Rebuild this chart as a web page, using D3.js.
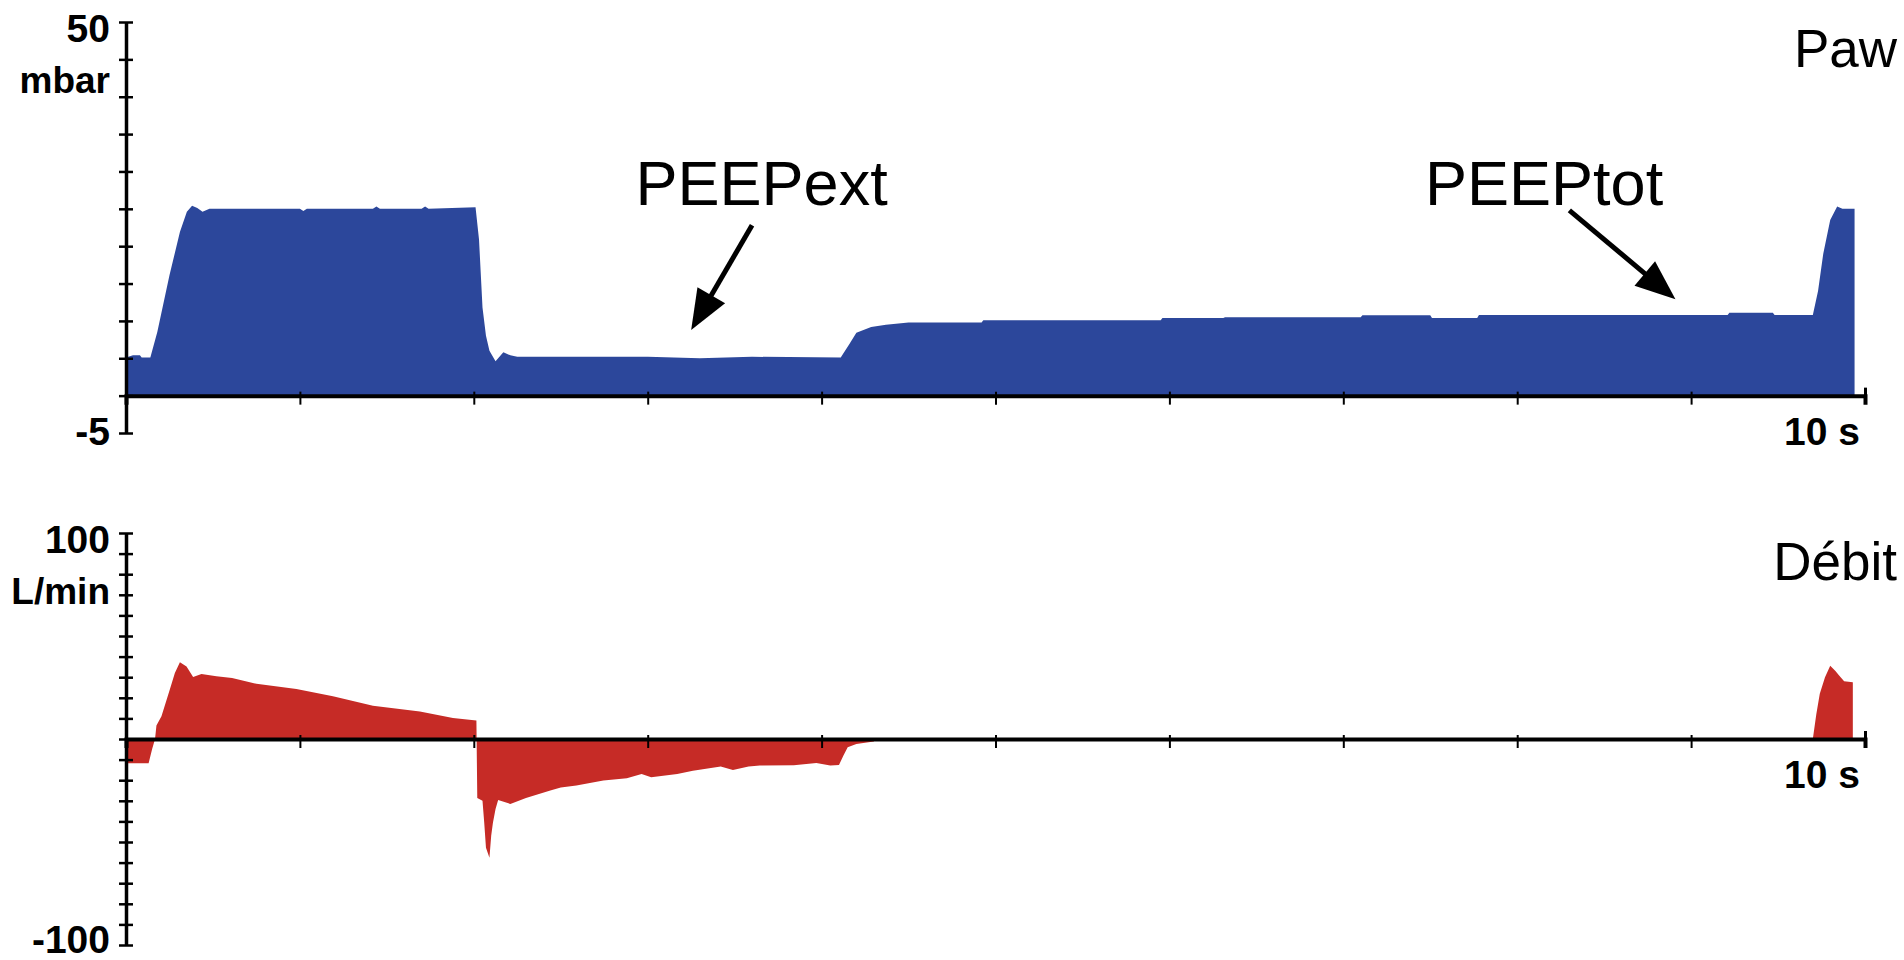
<!DOCTYPE html>
<html>
<head>
<meta charset="utf-8">
<script src="https://cdn.jsdelivr.net/npm/d3@7"></script>
<style>
  html, body { margin: 0; padding: 0; background: #fff; }
  svg { display: block; font-family: "Liberation Sans", Arial, sans-serif; }
</style>
</head>
<body>
<svg id="chart" width="1904" height="960"></svg>
<script>
// Paw (mbar) over time (s)
const pawTime = [0, 0.04, 0.08, 0.09, 0.14, 0.18, 0.25, 0.31, 0.35, 0.38, 0.41, 0.44, 0.48, 1.0, 1.02, 1.04, 1.42, 1.44, 1.46, 1.7, 1.72, 1.74, 2.01,
  2.03, 2.05, 2.07, 2.09, 2.125, 2.17, 2.21, 2.25, 3.0, 3.3, 3.6, 4.11, 4.16, 4.20, 4.285, 4.37, 4.5, 4.92, 4.93, 5.95, 5.96, 6.31, 6.32,
  7.10, 7.11, 7.50, 7.51, 7.77, 7.78, 9.21, 9.22, 9.47, 9.48, 9.70, 9.73, 9.76, 9.80, 9.84, 9.87, 9.94];
const pawValue = [5.1, 5.4, 5.4, 5.1, 5.1, 8.5, 16.1, 21.9, 24.6, 25.4, 25.1, 24.6, 25.0, 25.0, 24.7, 25.0, 25.0, 25.3, 25.0, 25.0, 25.3, 25.0, 25.2,
  20.9, 11.8, 8.0, 6.0, 4.6, 5.8, 5.4, 5.2, 5.2, 5.0, 5.2, 5.1, 6.9, 8.4, 9.2, 9.5, 9.8, 9.8, 10.1, 10.1, 10.4, 10.4, 10.5,
  10.5, 10.75, 10.75, 10.4, 10.4, 10.8, 10.8, 11.1, 11.1, 10.8, 10.8, 14, 19, 23.5, 25.3, 25.0, 25.0];

// Débit (L/min) over time (s)
const flowTime = [0, 0.13, 0.15, 0.167, 0.175, 0.204, 0.252, 0.281, 0.31, 0.348, 0.386, 0.434, 0.52, 0.61, 0.75, 0.98, 1.19, 1.42, 1.69, 1.88, 2.015,
  2.02, 2.05, 2.06, 2.07, 2.09, 2.10, 2.11, 2.125, 2.14, 2.21, 2.30, 2.44, 2.50, 2.59, 2.745, 2.88, 2.965, 3.02, 3.17, 3.26, 3.42, 3.49,
  3.58, 3.645, 3.84, 3.97, 4.05, 4.10, 4.125, 4.15, 4.20, 4.30, 4.31, 9.69, 9.70, 9.72, 9.74, 9.77, 9.80, 9.83, 9.85, 9.88, 9.93];
const flowValue = [-11.8, -11.8, -5, 0, 6.5, 11, 24, 32, 37.2, 35.2, 30.1, 31.5, 30.5, 29.6, 26.8, 24.3, 20.7, 16.2, 13.4, 10.2, 9.0,
  -28.6, -30, -40.6, -52.8, -57.6, -47, -40.6, -34, -29.6, -31.5, -28.6, -25, -23.5, -22.6, -20.2, -19.1, -17, -18.6, -17, -15.4, -13.4, -15,
  -13.4, -12.9, -12.7, -11.6, -12.9, -12.6, -8.1, -4.0, -2.4, -1.2, 0, 0, 0, 12, 22, 30, 35.6, 33, 31, 28, 27.5];

const xTicks = [1, 2, 3, 4, 5, 6, 7, 8, 9, 10];
const pawTicks = [-5, 0, 5, 10, 15, 20, 25, 30, 35, 40, 45, 50];
const flowTicks = [-100, -90, -80, -70, -60, -50, -40, -30, -20, -10, 0, 10, 20, 30, 40, 50, 60, 70, 80, 90, 100];

// annotations: [label, text t, text value, arrow start t, start value, tip t, tip value]
const notes = [
  ["PEEPext", 2.93, 25.5, 3.60, 22.8, 3.25, 8.8],
  ["PEEPtot", 7.47, 25.5, 8.30, 24.8, 8.91, 12.9]
];

const svg = d3.select("#chart");

const x = d3.scaleLinear().domain([0, 10]).range([126, 1865]);
const yPaw = d3.scaleLinear().domain([-5, 50]).range([433, 22]);
const yFlow = d3.scaleLinear().domain([-100, 100]).range([945, 533]);

function drawPanel(times, values, y, ticks, color, top, unit, bottom, name) {
  const pts = times.map((t, i) => [t, values[i]]);
  const area = d3.area()
    .x(d => x(d[0]))
    .y0(y(0))
    .y1(d => y(d[1]));

  svg.append("path")
    .datum(pts)
    .attr("d", area)
    .attr("fill", color);

  // x axis on the zero line
  const gx = svg.append("g")
    .attr("transform", `translate(0,${y(0)})`)
    .call(d3.axisBottom(x).tickValues(xTicks).tickSize(9).tickFormat(""));
  gx.select(".domain").attr("stroke", "#000").attr("stroke-width", 4);
  gx.selectAll(".tick line").attr("y1", -4).attr("stroke-width", 2);
  gx.selectAll(".tick").filter(d => d === 10).select("line").attr("y1", -8).attr("y2", 8).attr("stroke-width", 3);

  // y axis with ticks on both sides
  const gy = svg.append("g")
    .attr("transform", `translate(${x(0)},0)`)
    .call(d3.axisLeft(y).tickValues(ticks).tickSize(7).tickSizeOuter(0).tickFormat(""));
  gy.select(".domain").attr("stroke", "#000").attr("stroke-width", 3.5);
  gy.selectAll(".tick line").attr("x1", -7).attr("x2", 7).attr("stroke-width", 2.5);

  const lab = svg.append("g")
    .attr("font-weight", "bold")
    .attr("font-size", 39)
    .attr("text-anchor", "end");
  lab.append("text").attr("x", 110).attr("y", y(ticks[ticks.length - 1]) + 20).text(top);
  lab.append("text").attr("x", 110).attr("y", y(ticks[ticks.length - 1]) + 71).attr("font-size", 37).text(unit);
  lab.append("text").attr("x", 110).attr("y", y(ticks[0]) + (bottom === "-100" ? 8 : 12)).text(bottom);
  lab.append("text").attr("x", 1860).attr("y", y(0) + 49).text("10 s");

  svg.append("text")
    .attr("x", 1897)
    .attr("y", y(ticks[ticks.length - 1]) + (name === "Paw" ? 45 : 47))
    .attr("text-anchor", "end")
    .attr("font-size", 53)
    .text(name);
}

drawPanel(pawTime, pawValue, yPaw, pawTicks, "#2c479b", "50", "mbar", "-5", "Paw");
drawPanel(flowTime, flowValue, yFlow, flowTicks, "#c62b26", "100", "L/min", "-100", "Débit");

// annotations with arrows
notes.forEach(n => {
  svg.append("text")
    .attr("x", x(n[1]))
    .attr("y", yPaw(n[2]))
    .attr("font-size", 63)
    .text(n[0]);

  const x0 = x(n[3]), y0 = yPaw(n[4]), x1 = x(n[5]), y1 = yPaw(n[6]);
  const a = Math.atan2(y1 - y0, x1 - x0);
  const len = 40, half = 16;
  const bx = x1 - len * Math.cos(a), by = y1 - len * Math.sin(a);

  svg.append("line")
    .attr("x1", x0).attr("y1", y0)
    .attr("x2", bx + 4 * Math.cos(a)).attr("y2", by + 4 * Math.sin(a))
    .attr("stroke", "#000")
    .attr("stroke-width", 5);

  svg.append("path")
    .attr("d", d3.line()([
      [x1, y1],
      [bx + half * Math.sin(a), by - half * Math.cos(a)],
      [bx - half * Math.sin(a), by + half * Math.cos(a)]
    ]) + "Z")
    .attr("fill", "#000");
});
</script>
</body>
</html>
